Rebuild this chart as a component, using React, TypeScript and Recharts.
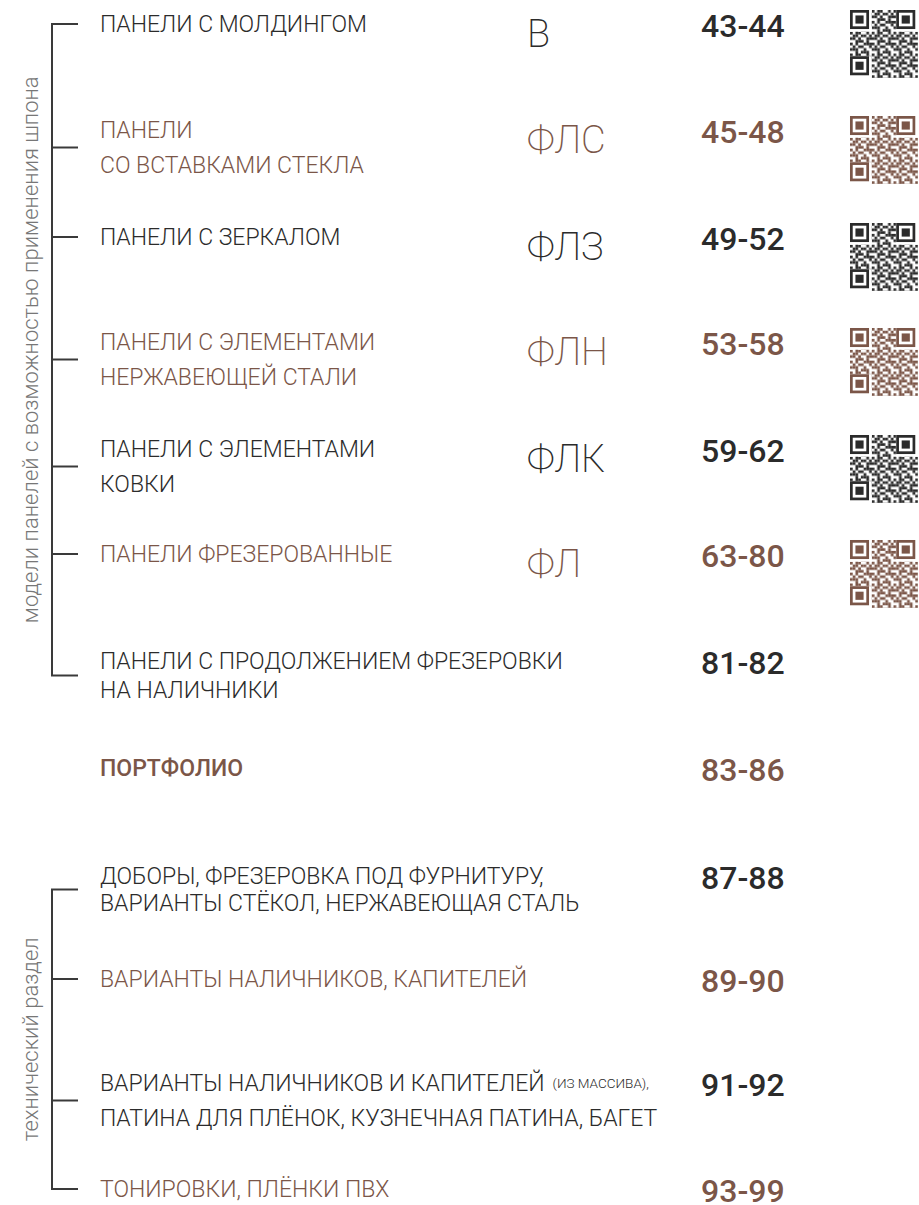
import React from 'react';
import { ScatterChart, Scatter, XAxis, YAxis, ReferenceLine } from 'recharts';

// contents of the catalogue page
const entryTitles: string[][] = [
  ['ПАНЕЛИ С МОЛДИНГОМ'],
  ['ПАНЕЛИ', 'СО ВСТАВКАМИ СТЕКЛА'],
  ['ПАНЕЛИ С ЗЕРКАЛОМ'],
  ['ПАНЕЛИ С ЭЛЕМЕНТАМИ', 'НЕРЖАВЕЮЩЕЙ СТАЛИ'],
  ['ПАНЕЛИ С ЭЛЕМЕНТАМИ', 'КОВКИ'],
  ['ПАНЕЛИ ФРЕЗЕРОВАННЫЕ'],
  ['ПАНЕЛИ С ПРОДОЛЖЕНИЕМ ФРЕЗЕРОВКИ', 'НА НАЛИЧНИКИ'],
  ['ПОРТФОЛИО'],
  ['ДОБОРЫ, ФРЕЗЕРОВКА ПОД ФУРНИТУРУ,', 'ВАРИАНТЫ СТЁКОЛ, НЕРЖАВЕЮЩАЯ СТАЛЬ'],
  ['ВАРИАНТЫ НАЛИЧНИКОВ, КАПИТЕЛЕЙ'],
  ['ВАРИАНТЫ НАЛИЧНИКОВ И КАПИТЕЛЕЙ', 'ПАТИНА ДЛЯ ПЛЁНОК, КУЗНЕЧНАЯ ПАТИНА, БАГЕТ'],
  ['ТОНИРОВКИ, ПЛЁНКИ ПВХ'],
];
const entryNotes = ['', '', '', '', '', '', '', '', '', '', '(ИЗ МАССИВА),', ''];
const entryCodes = ['В', 'ФЛС', 'ФЛЗ', 'ФЛН', 'ФЛК', 'ФЛ', '', '', '', '', '', ''];
const entryPages = ['43-44', '45-48', '49-52', '53-58', '59-62', '63-80', '81-82', '83-86', '87-88', '89-90', '91-92', '93-99'];
// where the first line of each entry sits down the page
const entryRow = [24, 130, 237, 342, 449, 554, 661, 768, 876, 979, 1083, 1189];
const entryGroup = [0, 0, 0, 0, 0, 0, 0, -1, 1, 1, 1, 1];
const groupTitles = ['модели панелей с возможностью применения шпона', 'технический раздел'];

const W = 919;
const H = 1205;
const DARK = '#2b2b2b';
const BROWN = '#7b5648';
const LINE = '#3a3a3a';
const COL = { bracket: 52, tick: 78, group: 30, label: 100, code: 527, pages: 701, qr: 884 };
const LINE_GAP: Record<number, number> = { 6: 29, 8: 27 };
const gapOf = (i: number) => LINE_GAP[i] ?? 35;

const toneOf = (i: number) => (i % 2 === 1 ? BROWN : DARK);

const labelPoints = entryTitles.flatMap((lines, i) =>
  lines.map((text, k) => ({
    x: COL.label,
    y: entryRow[i] + k * gapOf(i),
    text,
    note: k === 0 ? entryNotes[i] : '',
    color: toneOf(i),
    bold: entryGroup[i] === -1,
  }))
);
const codePoints = entryCodes
  .map((code, i) => ({ x: COL.code, y: entryRow[i] + 10, code, color: toneOf(i) }))
  .filter(p => p.code);
const pagePoints = entryPages.map((pages, i) => ({ x: COL.pages, y: entryRow[i] + 2, pages, color: toneOf(i) }));
const qrPoints = codePoints.map((p, i) => ({ x: COL.qr, y: entryRow[i] + 20, color: p.color, id: i }));

const tickY = entryRow.map((y, i) => y + ((entryTitles[i].length - 1) * gapOf(i)) / 2);
const groups = groupTitles.map((title, g) => {
  const ys = tickY.filter((_, i) => entryGroup[i] === g);
  const top = Math.min(...ys);
  const bottom = Math.max(...ys);
  return { title, top, bottom, ticks: ys, x: COL.group, y: (top + bottom) / 2 };
});

const QR_TILE = [
  '10110010',
  '01101101',
  '11010011',
  '00111010',
  '10100111',
  '01011001',
  '11100100',
  '00101110',
];

const FONT = "Roboto, 'Liberation Sans', sans-serif";

const LabelShape = (props: any) => {
  const { cx, cy, payload } = props;
  return (
    <text
      x={cx}
      y={cy}
      dominantBaseline="central"
      fill={payload.color}
      fontFamily={FONT}
      fontWeight={payload.bold ? 500 : 300}
      fontSize={23}
    >
      {payload.text}
      {payload.note && (
        <tspan fontSize={13.5} dx={8}>{payload.note}</tspan>
      )}
    </text>
  );
};

const CodeShape = (props: any) => {
  const { cx, cy, payload } = props;
  return (
    <text
      x={cx}
      y={cy}
      dominantBaseline="central"
      fill={payload.color}
      fontFamily={FONT}
      fontWeight={200}
      fontSize={38}
    >
      {payload.code}
    </text>
  );
};

const PagesShape = (props: any) => {
  const { cx, cy, payload } = props;
  return (
    <text
      x={cx}
      y={cy}
      dominantBaseline="central"
      fill={payload.color}
      fontFamily={FONT}
      fontWeight={500}
      fontSize={32}
    >
      {payload.pages}
    </text>
  );
};

const QrShape = (props: any) => {
  const { cx, cy, payload } = props;
  const size = 68;
  const m = size / 25;
  const x0 = cx - size / 2;
  const y0 = cy - size / 2;
  const pid = `qr-tile-${payload.id}`;
  const finder = (fx: number, fy: number) => (
    <g>
      <rect x={fx} y={fy} width={8 * m} height={8 * m} fill="#fff" />
      <rect x={fx + m / 2} y={fy + m / 2} width={6 * m} height={6 * m} fill="none" stroke={payload.color} strokeWidth={m} />
      <rect x={fx + 2 * m} y={fy + 2 * m} width={3 * m} height={3 * m} fill={payload.color} />
    </g>
  );
  return (
    <g>
      <defs>
        <pattern id={pid} x={x0} y={y0} width={8 * m} height={8 * m} patternUnits="userSpaceOnUse">
          {QR_TILE.flatMap((row, r) =>
            row.split('').map((bit, c) =>
              bit === '1' ? (
                <rect key={`${r}-${c}`} x={c * m} y={r * m} width={m} height={m} fill={payload.color} />
              ) : null
            )
          )}
        </pattern>
      </defs>
      <rect x={x0} y={y0} width={size} height={size} fill={`url(#${pid})`} />
      {finder(x0, y0)}
      {finder(x0 + size - 7 * m - m, y0)}
      {finder(x0, y0 + size - 7 * m - m)}
    </g>
  );
};

const GroupShape = (props: any) => {
  const { cx, cy, payload } = props;
  return (
    <text
      x={cx}
      y={cy}
      transform={`rotate(-90 ${cx} ${cy})`}
      textAnchor="middle"
      dominantBaseline="central"
      fill="#777777"
      fontFamily={FONT}
      fontWeight={300}
      fontSize={22}
    >
      {payload.title}
    </text>
  );
};

const App: React.FC = () => {
  return (
    <div style={{ position: 'absolute', left: 0, top: 0, width: W, height: H, background: '#fff' }}>
      <ScatterChart width={W} height={H} margin={{ top: 0, right: 0, bottom: 0, left: 0 }}>
        <XAxis type="number" dataKey="x" domain={[0, W]} hide />
        <YAxis type="number" dataKey="y" domain={[0, H]} reversed hide />
        {groups.map((g, gi) => (
          <ReferenceLine
            key={`v-${gi}`}
            segment={[{ x: COL.bracket, y: g.top }, { x: COL.bracket, y: g.bottom }]}
            stroke={LINE}
            strokeWidth={2}
            ifOverflow="visible"
          />
        ))}
        {groups.flatMap((g, gi) =>
          g.ticks.map((t, ti) => (
            <ReferenceLine
              key={`t-${gi}-${ti}`}
              segment={[{ x: COL.bracket - 1, y: t }, { x: COL.tick, y: t }]}
              stroke={LINE}
              strokeWidth={2}
              ifOverflow="visible"
            />
          ))
        )}
        <Scatter data={groups} shape={GroupShape} isAnimationActive={false} />
        <Scatter data={labelPoints} shape={LabelShape} isAnimationActive={false} />
        <Scatter data={codePoints} shape={CodeShape} isAnimationActive={false} />
        <Scatter data={pagePoints} shape={PagesShape} isAnimationActive={false} />
        <Scatter data={qrPoints} shape={QrShape} isAnimationActive={false} />
      </ScatterChart>
    </div>
  );
};

export default App;
